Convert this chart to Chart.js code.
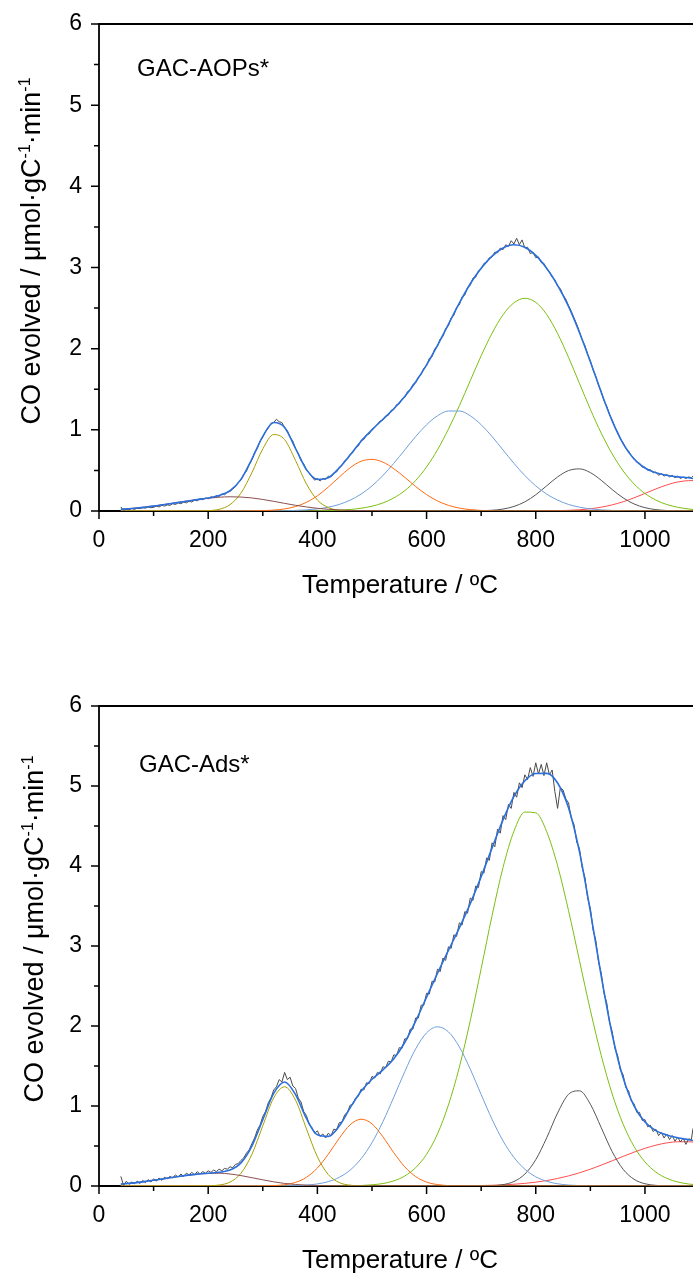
<!DOCTYPE html>
<html>
<head>
<meta charset="utf-8">
<script src="https://cdn.jsdelivr.net/npm/chart.js@4.4.1/dist/chart.umd.min.js"></script>
<style>
  html, body { margin: 0; padding: 0; background: #fff; overflow: hidden; }
  body { width: 693px; height: 1274px; position: relative; }
  canvas { position: absolute; left: 0; }
  #chartTop { top: 0; }
  #chartBottom { top: 682px; }
</style>
</head>
<body>
<canvas id="chartTop" width="693" height="640"></canvas>
<canvas id="chartBottom" width="693" height="592"></canvas>
<script>
// temperatures (ºC) for the fitted curves and for the measured signal
const fitTemps = [40, 60, 80, 100, 120, 140, 160, 180, 200, 220, 240, 260, 280, 300, 320, 340, 360, 380, 400, 420,
  440, 460, 480, 500, 520, 540, 560, 580, 600, 620, 640, 660, 680, 700, 720, 740, 760, 780, 800, 820,
  840, 860, 880, 900, 920, 940, 960, 980, 1000, 1020, 1040, 1060, 1080, 1088];
const rawTemps = [40, 45, 50, 55, 60, 65, 70, 75, 80, 85,
  90, 95, 100, 105, 110, 115, 120, 125, 130, 135,
  140, 145, 150, 155, 160, 165, 170, 175, 180, 185,
  190, 195, 200, 205, 210, 215, 220, 225, 230, 235,
  240, 245, 250, 255, 260, 265, 270, 275, 280, 285,
  290, 295, 300, 305, 310, 315, 320, 325, 330, 335,
  340, 345, 350, 355, 360, 365, 370, 375, 380, 385,
  390, 395, 400, 405, 410, 415, 420, 425, 430, 435,
  440, 445, 450, 455, 460, 465, 470, 475, 480, 485,
  490, 495, 500, 505, 510, 515, 520, 525, 530, 535,
  540, 545, 550, 555, 560, 565, 570, 575, 580, 585,
  590, 595, 600, 605, 610, 615, 620, 625, 630, 635,
  640, 645, 650, 655, 660, 665, 670, 675, 680, 685,
  690, 695, 700, 705, 710, 715, 720, 725, 730, 735,
  740, 745, 750, 755, 760, 765, 770, 775, 780, 785,
  790, 795, 800, 805, 810, 815, 820, 825, 830, 835,
  840, 845, 850, 855, 860, 865, 870, 875, 880, 885,
  890, 895, 900, 905, 910, 915, 920, 925, 930, 935,
  940, 945, 950, 955, 960, 965, 970, 975, 980, 985,
  990, 995, 1000, 1005, 1010, 1015, 1020, 1025, 1030, 1035,
  1040, 1045, 1050, 1055, 1060, 1065, 1070, 1075, 1080, 1085,
  1088];

const xMajorTicks = [0, 200, 400, 600, 800, 1000];
const xMinorTicks = [100, 300, 500, 700, 900];
const yMajorTicks = [0, 1, 2, 3, 4, 5, 6];
const yMinorTicks = [0.5, 1.5, 2.5, 3.5, 4.5, 5.5];

// GAC-AOPs*
const aopRaw = [0.05, 0.01, 0.02, 0.015, 0.03, 0.02, 0.035, 0.03, 0.04, 0.035,
  0.05, 0.04, 0.045, 0.06, 0.05, 0.07, 0.06, 0.075, 0.07, 0.09,
  0.08, 0.10, 0.09, 0.11, 0.10, 0.12, 0.11, 0.135, 0.125, 0.15,
  0.14, 0.16, 0.15, 0.175, 0.165, 0.19, 0.18, 0.21, 0.20, 0.23,
  0.24, 0.27, 0.30, 0.35, 0.38, 0.45, 0.49, 0.57, 0.63, 0.72,
  0.77, 0.86, 0.91, 0.98, 1.02, 1.08, 1.09, 1.13, 1.10, 1.09,
  1.03, 0.99, 0.91, 0.86, 0.77, 0.71, 0.62, 0.58, 0.50, 0.47,
  0.42, 0.38, 0.40, 0.37, 0.40, 0.39, 0.43, 0.42, 0.47, 0.48,
  0.54, 0.56, 0.62, 0.64, 0.70, 0.72, 0.78, 0.80, 0.87, 0.88,
  0.94, 0.95, 1.01, 1.03, 1.07, 1.11, 1.12, 1.17, 1.18, 1.24,
  1.25, 1.31, 1.32, 1.38, 1.40, 1.47, 1.49, 1.56, 1.58, 1.65,
  1.68, 1.76, 1.79, 1.88, 1.90, 2.00, 2.03, 2.12, 2.15, 2.25,
  2.28, 2.38, 2.41, 2.51, 2.54, 2.64, 2.66, 2.75, 2.78, 2.87,
  2.88, 2.96, 2.98, 3.05, 3.06, 3.12, 3.13, 3.19, 3.18, 3.24,
  3.22, 3.28, 3.26, 3.33, 3.29, 3.36, 3.28, 3.34, 3.24, 3.25,
  3.17, 3.19, 3.12, 3.13, 3.06, 3.05, 2.98, 2.95, 2.88, 2.85,
  2.77, 2.74, 2.66, 2.61, 2.53, 2.46, 2.38, 2.30, 2.21, 2.11,
  2.04, 1.93, 1.85, 1.74, 1.66, 1.55, 1.47, 1.36, 1.29, 1.19,
  1.12, 1.03, 0.97, 0.89, 0.84, 0.77, 0.74, 0.68, 0.65, 0.60,
  0.59, 0.54, 0.54, 0.50, 0.51, 0.47, 0.48, 0.44, 0.46, 0.43,
  0.45, 0.42, 0.44, 0.41, 0.43, 0.40, 0.42, 0.40, 0.42, 0.41,
  0.43];
const aopFit = [0.02, 0.03, 0.045, 0.06, 0.08, 0.10, 0.12, 0.14, 0.16, 0.19, 0.25, 0.39, 0.64, 0.92, 1.09, 1.03, 0.77, 0.51, 0.39, 0.41,
  0.53, 0.69, 0.86, 1.00, 1.13, 1.26, 1.41, 1.59, 1.80, 2.04, 2.30, 2.56, 2.80, 2.99, 3.14, 3.24, 3.28, 3.25, 3.15, 2.99,
  2.78, 2.52, 2.20, 1.84, 1.46, 1.11, 0.83, 0.64, 0.53, 0.47, 0.44, 0.42, 0.41, 0.40];
const aopPeak1 = [0.021, 0.032, 0.045, 0.061, 0.080, 0.101, 0.122, 0.142, 0.158, 0.170, 0.175, 0.172, 0.161, 0.142, 0.119, 0.094, 0.070, 0.050, 0.033, 0.021,
  0.013, 0.007, 0.004, 0.002, 0.001, 0, 0, 0, 0, 0, 0, 0, 0, 0, 0, 0, 0, 0, 0, 0,
  0, 0, 0, 0, 0, 0, 0, 0, 0, 0, 0, 0, 0, 0];
const aopPeak2 = [0, 0, 0, 0, 0, 0, 0, 0, 0.004, 0.021, 0.078, 0.220, 0.471, 0.765, 0.942, 0.879, 0.622, 0.333, 0.135, 0.042,
  0.010, 0.002, 0, 0, 0, 0, 0, 0, 0, 0, 0, 0, 0, 0, 0, 0, 0, 0, 0, 0,
  0, 0, 0, 0, 0, 0, 0, 0, 0, 0, 0, 0, 0, 0];
const aopPeak3 = [0, 0, 0, 0, 0, 0, 0, 0, 0, 0, 0, 0, 0.001, 0.004, 0.011, 0.026, 0.055, 0.107, 0.187, 0.295,
  0.417, 0.533, 0.613, 0.636, 0.602, 0.521, 0.415, 0.302, 0.202, 0.124, 0.070, 0.036, 0.017, 0.007, 0.003, 0.001, 0, 0, 0, 0,
  0, 0, 0, 0, 0, 0, 0, 0, 0, 0, 0, 0, 0, 0];
const aopPeak4 = [0, 0, 0, 0, 0, 0, 0, 0, 0, 0, 0, 0, 0, 0.001, 0.001, 0.003, 0.007, 0.014, 0.026, 0.047,
  0.081, 0.134, 0.208, 0.309, 0.437, 0.588, 0.752, 0.917, 1.063, 1.173, 1.232, 1.232, 1.173, 1.063, 0.917, 0.752, 0.588, 0.437, 0.309, 0.208,
  0.134, 0.081, 0.047, 0.026, 0.014, 0.007, 0.003, 0.001, 0.001, 0, 0, 0, 0, 0];
const aopPeak5 = [0, 0, 0, 0, 0, 0, 0, 0, 0, 0, 0, 0, 0, 0, 0, 0, 0, 0, 0.002, 0.005,
  0.010, 0.019, 0.034, 0.059, 0.099, 0.161, 0.250, 0.376, 0.543, 0.754, 1.008, 1.296, 1.605, 1.912, 2.191, 2.417, 2.565, 2.620, 2.571, 2.421,
  2.186, 1.893, 1.573, 1.253, 0.958, 0.703, 0.494, 0.333, 0.216, 0.134, 0.080, 0.046, 0.025, 0.019];
const aopPeak6 = [0, 0, 0, 0, 0, 0, 0, 0, 0, 0, 0, 0, 0, 0, 0, 0, 0, 0, 0, 0,
  0, 0, 0, 0, 0, 0, 0, 0, 0, 0, 0, 0, 0.001, 0.003, 0.009, 0.024, 0.056, 0.113, 0.200, 0.310,
  0.420, 0.498, 0.519, 0.473, 0.378, 0.264, 0.162, 0.087, 0.041, 0.017, 0.006, 0.002, 0.001, 0];
const aopPeak7 = [0, 0, 0, 0, 0, 0, 0, 0, 0, 0, 0, 0, 0, 0, 0, 0, 0, 0, 0, 0,
  0, 0, 0, 0, 0, 0, 0, 0, 0, 0, 0, 0, 0, 0, 0, 0, 0, 0, 0.001, 0.002,
  0.004, 0.008, 0.015, 0.028, 0.047, 0.076, 0.114, 0.162, 0.216, 0.272, 0.321, 0.358, 0.374, 0.375];

// GAC-Ads*
const adsRaw = [0.12, 0.01, 0.06, 0.02, 0.05, 0.03, 0.06, 0.03, 0.07, 0.04,
  0.08, 0.05, 0.09, 0.06, 0.10, 0.07, 0.11, 0.09, 0.12, 0.10,
  0.14, 0.11, 0.15, 0.12, 0.16, 0.14, 0.17, 0.14, 0.18, 0.15,
  0.18, 0.16, 0.19, 0.17, 0.20, 0.18, 0.21, 0.19, 0.22, 0.21,
  0.24, 0.23, 0.27, 0.28, 0.32, 0.35, 0.41, 0.45, 0.53, 0.60,
  0.70, 0.76, 0.87, 0.93, 1.04, 1.10, 1.20, 1.24, 1.33, 1.30,
  1.42, 1.33, 1.36, 1.25, 1.22, 1.10, 1.05, 0.93, 0.88, 0.77,
  0.73, 0.66, 0.69, 0.62, 0.65, 0.60, 0.66, 0.63, 0.71, 0.70,
  0.79, 0.80, 0.89, 0.92, 1.01, 1.02, 1.10, 1.12, 1.21, 1.20,
  1.29, 1.28, 1.37, 1.35, 1.42, 1.40, 1.49, 1.48, 1.56, 1.55,
  1.64, 1.63, 1.73, 1.72, 1.84, 1.84, 1.96, 1.96, 2.10, 2.10,
  2.26, 2.26, 2.41, 2.40, 2.56, 2.55, 2.71, 2.68, 2.85, 2.82,
  2.99, 2.97, 3.14, 3.12, 3.29, 3.26, 3.43, 3.41, 3.60, 3.57,
  3.75, 3.73, 3.93, 3.91, 4.10, 4.07, 4.29, 4.24, 4.46, 4.41,
  4.63, 4.58, 4.77, 4.72, 4.92, 4.86, 5.04, 4.98, 5.14, 5.08,
  5.23, 5.12, 5.29, 5.15, 5.27, 5.13, 5.29, 5.14, 5.20, 4.93,
  4.72, 4.98, 4.95, 4.84, 4.79, 4.60, 4.52, 4.30, 4.22, 3.98,
  3.86, 3.60, 3.47, 3.20, 3.07, 2.80, 2.66, 2.41, 2.29, 2.05,
  1.93, 1.72, 1.63, 1.45, 1.39, 1.23, 1.19, 1.06, 1.03, 0.92,
  0.92, 0.82, 0.83, 0.74, 0.76, 0.68, 0.71, 0.63, 0.67, 0.60,
  0.65, 0.58, 0.63, 0.56, 0.61, 0.55, 0.60, 0.52, 0.59, 0.58,
  0.72];
const adsFit = [0.024, 0.036, 0.052, 0.071, 0.092, 0.113, 0.133, 0.148, 0.160, 0.172, 0.199, 0.289, 0.499, 0.830, 1.158, 1.300, 1.142, 0.844, 0.640, 0.620,
  0.749, 0.977, 1.183, 1.334, 1.451, 1.591, 1.794, 2.061, 2.360, 2.659, 2.945, 3.227, 3.530, 3.867, 4.227, 4.577, 4.869, 5.066, 5.157, 5.158,
  5.038, 4.727, 4.179, 3.432, 2.620, 1.894, 1.352, 1.001, 0.800, 0.692, 0.637, 0.603, 0.578, 0.568];
const adsPeak1 = [0.024, 0.036, 0.052, 0.071, 0.092, 0.113, 0.133, 0.148, 0.158, 0.160, 0.150, 0.130, 0.104, 0.077, 0.052, 0.032, 0.019, 0.010, 0.005, 0.002,
  0.001, 0, 0, 0, 0, 0, 0, 0, 0, 0, 0, 0, 0, 0, 0, 0, 0, 0, 0, 0,
  0, 0, 0, 0, 0, 0, 0, 0, 0, 0, 0, 0, 0, 0];
const adsPeak2 = [0, 0, 0, 0, 0, 0, 0, 0, 0.002, 0.012, 0.049, 0.159, 0.395, 0.752, 1.101, 1.240, 1.073, 0.714, 0.365, 0.143,
  0.043, 0.010, 0.002, 0, 0, 0, 0, 0, 0, 0, 0, 0, 0, 0, 0, 0, 0, 0, 0, 0,
  0, 0, 0, 0, 0, 0, 0, 0, 0, 0, 0, 0, 0, 0];
const adsPeak3 = [0, 0, 0, 0, 0, 0, 0, 0, 0, 0, 0, 0, 0, 0.001, 0.005, 0.016, 0.045, 0.109, 0.225, 0.397,
  0.597, 0.765, 0.835, 0.777, 0.616, 0.416, 0.240, 0.118, 0.049, 0.018, 0.005, 0.001, 0, 0, 0, 0, 0, 0, 0, 0,
  0, 0, 0, 0, 0, 0, 0, 0, 0, 0, 0, 0, 0, 0];
const adsPeak4 = [0, 0, 0, 0, 0, 0, 0, 0, 0, 0, 0, 0, 0, 0, 0, 0.002, 0.005, 0.011, 0.026, 0.055,
  0.108, 0.199, 0.340, 0.542, 0.804, 1.111, 1.429, 1.714, 1.914, 1.990, 1.927, 1.739, 1.461, 1.143, 0.833, 0.565, 0.357, 0.210, 0.115, 0.059,
  0.028, 0.012, 0.005, 0.002, 0.001, 0, 0, 0, 0, 0, 0, 0, 0, 0];
const adsPeak5 = [0, 0, 0, 0, 0, 0, 0, 0, 0, 0, 0, 0, 0, 0, 0, 0, 0, 0, 0, 0,
  0, 0.003, 0.006, 0.015, 0.031, 0.064, 0.125, 0.229, 0.397, 0.651, 1.012, 1.485, 2.066, 2.717, 3.381, 3.981, 4.434, 4.674, 4.665, 4.429,
  4.003, 3.443, 2.819, 2.197, 1.630, 1.150, 0.773, 0.494, 0.301, 0.174, 0.096, 0.050, 0.025, 0.019];
const adsPeak6 = [0, 0, 0, 0, 0, 0, 0, 0, 0, 0, 0, 0, 0, 0, 0, 0, 0, 0, 0, 0,
  0, 0, 0, 0, 0, 0, 0, 0, 0, 0, 0, 0, 0, 0.001, 0.004, 0.017, 0.056, 0.149, 0.329, 0.602,
  0.913, 1.146, 1.190, 1.023, 0.728, 0.429, 0.209, 0.084, 0.028, 0.008, 0.002, 0, 0, 0];
const adsPeak7 = [0, 0, 0, 0, 0, 0, 0, 0, 0, 0, 0, 0, 0, 0, 0, 0, 0, 0, 0, 0,
  0, 0, 0, 0, 0, 0, 0, 0, 0, 0, 0.001, 0.002, 0.003, 0.006, 0.009, 0.014, 0.022, 0.033, 0.048, 0.068,
  0.094, 0.126, 0.165, 0.210, 0.261, 0.315, 0.370, 0.423, 0.471, 0.510, 0.539, 0.553, 0.553, 0.549];

const FONT = '"Liberation Sans", Arial, Helvetica, sans-serif';
const peakColors = ['#8c4d4d', '#a6a000', '#ff6a10', '#6f9fdc', '#7cbf10', '#555555', '#ff4d4d'];

function pts(xs, ys) {
  return xs.map((x, i) => ({ x: x, y: ys[i] }));
}

function curve(label, xs, ys, color, width, smooth) {
  return {
    label: label,
    data: pts(xs, ys),
    borderColor: color,
    borderWidth: width,
    pointRadius: 0,
    fill: false,
    tension: smooth ? 0.4 : 0,
    cubicInterpolationMode: smooth ? 'monotone' : 'default'
  };
}

// axis lines, tick marks, top frame and the texts
const framePlugin = {
  id: 'frame',
  beforeDatasetsDraw(chart, args, opts) {
    const ctx = chart.ctx, a = chart.chartArea;
    const x = chart.scales.x, y = chart.scales.y;
    ctx.save();
    ctx.strokeStyle = '#000';
    ctx.lineWidth = 1.8;
    ctx.beginPath();
    ctx.moveTo(a.right + 2, a.top);
    ctx.lineTo(a.left, a.top);
    ctx.lineTo(a.left, a.bottom);
    ctx.lineTo(a.right + 2, a.bottom);
    ctx.stroke();
    ctx.lineWidth = 1.5;
    ctx.beginPath();
    xMajorTicks.forEach(v => { const p = x.getPixelForValue(v); ctx.moveTo(p, a.bottom); ctx.lineTo(p, a.bottom + 8); });
    xMinorTicks.forEach(v => { const p = x.getPixelForValue(v); ctx.moveTo(p, a.bottom); ctx.lineTo(p, a.bottom + 5); });
    yMajorTicks.forEach(v => { const p = y.getPixelForValue(v); ctx.moveTo(a.left, p); ctx.lineTo(a.left - 8, p); });
    yMinorTicks.forEach(v => { const p = y.getPixelForValue(v); ctx.moveTo(a.left, p); ctx.lineTo(a.left - 5, p); });
    ctx.stroke();
    ctx.restore();
  },
  afterDraw(chart, args, opts) {
    const ctx = chart.ctx;
    ctx.save();
    ctx.fillStyle = '#000';
    ctx.textBaseline = 'alphabetic';

    // sample name
    ctx.font = '24px ' + FONT;
    ctx.textAlign = 'left';
    ctx.fillText(opts.name, opts.nameX, opts.nameY);

    // x title
    ctx.font = '26px ' + FONT;
    ctx.textAlign = 'center';
    ctx.fillText('Temperature / ºC', opts.xTitleX, opts.xTitleY);

    // y title with superscripts
    const size = 27, sup = 16;
    const parts = [['CO evolved / μmol·gC', false], ['-1', true], ['·min', false], ['-1', true]];
    let total = 0;
    parts.forEach(p => {
      ctx.font = (p[1] ? sup : size) + 'px ' + FONT;
      p.w = ctx.measureText(p[0]).width;
      total += p.w;
    });
    ctx.translate(opts.yTitleX, opts.yTitleY);
    ctx.rotate(-Math.PI / 2);
    ctx.textAlign = 'left';
    let cx = -total / 2;
    parts.forEach(p => {
      ctx.font = (p[1] ? sup : size) + 'px ' + FONT;
      ctx.fillText(p[0], cx, p[1] ? -10 : 0);
      cx += p.w;
    });
    ctx.restore();
  }
};

function makeChart(canvasId, raw, fit, peaks, axisHeight, frameOpts) {
  // first dataset is drawn last, so the fit sits over the measured signal
  const datasets = [
    curve('Fit', fitTemps, fit, '#2b70dc', 1.6, true),
    curve('Measured', rawTemps, raw, '#4a4a4a', 1, false)
  ];
  peaks.forEach((p, i) => datasets.push(curve('Peak ' + (i + 1), fitTemps, p, peakColors[i], 1, true)));

  return new Chart(document.getElementById(canvasId), {
    type: 'line',
    data: { datasets: datasets },
    options: {
      responsive: false,
      devicePixelRatio: 1,
      animation: false,
      layout: { padding: { top: 24, left: 0, right: 0, bottom: 0 } },
      plugins: {
        legend: { display: false },
        tooltip: { enabled: false },
        frame: frameOpts
      },
      scales: {
        x: {
          type: 'linear',
          min: 0,
          max: 1088,
          afterBuildTicks: s => { s.ticks = xMajorTicks.map(v => ({ value: v })); },
          afterFit: s => { s.height = axisHeight; },
          grid: { display: false, drawTicks: true, tickLength: 8 },
          border: { display: false },
          ticks: { font: { family: FONT, size: 23 }, color: '#000', padding: 8, maxRotation: 0, callback: v => String(v) }
        },
        y: {
          min: 0,
          max: 6,
          afterBuildTicks: s => { s.ticks = yMajorTicks.map(v => ({ value: v })); },
          afterFit: s => { s.width = 99; },
          grid: { display: false, drawTicks: true, tickLength: 8 },
          border: { display: false },
          ticks: { font: { family: FONT, size: 23 }, color: '#000', padding: 9, callback: v => String(v) }
        }
      }
    },
    plugins: [framePlugin]
  });
}

makeChart('chartTop', aopRaw, aopFit,
  [aopPeak1, aopPeak2, aopPeak3, aopPeak4, aopPeak5, aopPeak6, aopPeak7], 129,
  { name: 'GAC-AOPs*', nameX: 137, nameY: 76, xTitleX: 400, xTitleY: 593, yTitleX: 40, yTitleY: 251 });

makeChart('chartBottom', adsRaw, adsFit,
  [adsPeak1, adsPeak2, adsPeak3, adsPeak4, adsPeak5, adsPeak6, adsPeak7], 88,
  { name: 'GAC-Ads*', nameX: 139, nameY: 90, xTitleX: 400, xTitleY: 586, yTitleX: 43, yTitleY: 247 });
</script>
</body>
</html>
